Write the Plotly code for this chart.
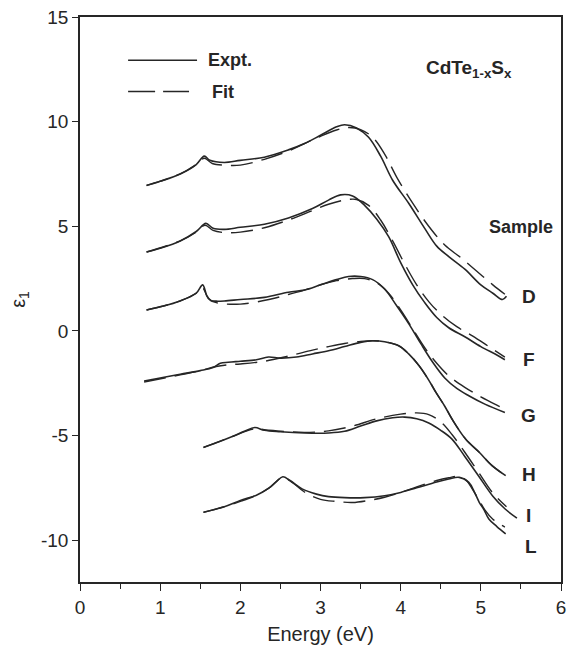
import plotly.graph_objects as go

# Real part of the dielectric function, eps1(E), for CdTe(1-x)S(x) films.
# Each sample: measured spectrum (Expt.) and model fit (Fit).

# --- sample D ---
d_expt_e = [0.83, 1.0, 1.25, 1.45, 1.55, 1.62, 1.8, 2.0, 2.3, 2.6, 2.8, 3.0, 3.2, 3.3, 3.45, 3.6,
            3.75, 3.9, 4.1, 4.3, 4.45, 4.6, 4.8, 5.0, 5.15, 5.27, 5.32]
d_expt_eps = [6.95, 7.15, 7.5, 7.95, 8.35, 8.15, 8.05, 8.15, 8.3, 8.65, 8.95, 9.35, 9.75, 9.85, 9.7, 9.25,
              8.35, 7.2, 6.1, 4.9, 4.05, 3.55, 2.95, 2.2, 1.8, 1.5, 1.65]
d_fit_e = [0.83, 1.25, 1.45, 1.55, 1.65, 1.8, 2.0, 2.3, 2.6, 2.8, 3.0, 3.2, 3.35, 3.5, 3.65, 3.8,
           3.95, 4.15, 4.35, 4.55, 4.75, 4.95, 5.15, 5.3]
d_fit_eps = [6.95, 7.5, 7.95, 8.25, 8.0, 7.92, 7.92, 8.2, 8.6, 8.95, 9.3, 9.6, 9.72, 9.62, 9.25, 8.45,
             7.35, 6.1, 5.0, 4.1, 3.5, 2.85, 2.2, 1.75]

# --- sample F ---
f_expt_e = [0.83, 1.0, 1.25, 1.45, 1.57, 1.66, 1.8, 2.0, 2.3, 2.6, 2.9, 3.1, 3.25, 3.4, 3.55, 3.7,
            3.85, 4.0, 4.15, 4.3, 4.45, 4.6, 4.8, 5.0, 5.2, 5.3]
f_expt_eps = [3.77, 3.95, 4.3, 4.75, 5.14, 4.9, 4.85, 4.95, 5.1, 5.4, 5.85, 6.25, 6.5, 6.45, 6.0, 5.35,
              4.5, 3.26, 2.2, 1.35, 0.64, 0.15, -0.28, -0.75, -1.15, -1.38]
f_fit_e = [0.83, 1.25, 1.45, 1.56, 1.66, 1.8, 2.0, 2.3, 2.6, 2.9, 3.1, 3.3, 3.45, 3.6, 3.75, 3.9,
           4.05, 4.2, 4.35, 4.5, 4.7, 4.9, 5.1, 5.3]
f_fit_eps = [3.77, 4.3, 4.72, 5.05, 4.8, 4.7, 4.72, 4.93, 5.3, 5.75, 6.05, 6.25, 6.28, 6.0, 5.3, 4.3,
             3.2, 2.2, 1.4, 0.8, 0.2, -0.25, -0.75, -1.25]

# --- sample G ---
g_expt_e = [0.83, 1.0, 1.25, 1.45, 1.53, 1.58, 1.63, 1.7, 1.8, 2.0, 2.3, 2.6, 2.8, 3.0, 3.2, 3.35,
            3.5, 3.65, 3.8, 3.95, 4.1, 4.25, 4.4, 4.55, 4.7, 4.85, 5.05, 5.3]
g_expt_eps = [1.0, 1.15, 1.43, 1.8, 2.2, 1.7, 1.45, 1.42, 1.43, 1.5, 1.6, 1.85, 1.95, 2.2, 2.45, 2.6,
              2.6, 2.45, 2.0, 1.2, 0.35, -0.6, -1.5, -2.25, -2.75, -3.1, -3.5, -3.9]
g_fit_e = [0.83, 1.25, 1.45, 1.53, 1.6, 1.7, 2.0, 2.37, 2.61, 2.8, 3.0, 3.2, 3.4, 3.55, 3.7, 3.85,
           4.0, 4.15, 4.3, 4.45, 4.6, 4.8, 5.0, 5.2, 5.28]
g_fit_eps = [1.0, 1.43, 1.8, 2.05, 1.55, 1.35, 1.28, 1.51, 1.75, 1.95, 2.2, 2.4, 2.5, 2.5, 2.3, 1.8,
             1.0, 0.1, -0.8, -1.55, -2.15, -2.7, -3.15, -3.55, -3.7]

# --- sample H ---
h_expt_e = [0.8, 1.0, 1.25, 1.5, 1.66, 1.75, 1.85, 2.0, 2.2, 2.35, 2.5, 2.7, 2.9, 3.1, 3.3, 3.5,
            3.65, 3.8, 3.98, 4.1, 4.23, 4.35, 4.44, 4.55, 4.64, 4.81, 4.98, 5.14, 5.31]
h_expt_eps = [-2.4, -2.25, -2.07, -1.9, -1.75, -1.55, -1.5, -1.45, -1.38, -1.25, -1.3, -1.25, -1.1,
              -0.95, -0.75, -0.55, -0.47, -0.52, -0.72, -1.1, -1.67, -2.35, -2.94, -3.6, -4.21,
              -5.17, -5.8, -6.44, -6.92]
h_fit_e = [0.8, 1.25, 1.5, 1.7, 1.85, 2.0, 2.3, 2.6, 2.9, 3.1, 3.3, 3.5, 3.65, 3.8, 3.98, 4.1,
           4.23, 4.35, 4.44, 4.55, 4.64, 4.81, 4.98, 5.14, 5.31]
h_fit_eps = [-2.45, -2.1, -1.9, -1.7, -1.62, -1.58, -1.45, -1.2, -0.92, -0.75, -0.6, -0.5, -0.47,
             -0.52, -0.72, -1.1, -1.67, -2.35, -2.94, -3.6, -4.21, -5.17, -5.8, -6.44, -6.92]

# --- sample I ---
i_expt_e = [1.54, 1.7, 1.9, 2.05, 2.18, 2.3, 2.5, 2.8, 3.1, 3.3, 3.5, 3.7, 3.9, 4.05, 4.2, 4.35,
            4.5, 4.64, 4.8, 4.97, 5.15, 5.3, 5.45]
i_expt_eps = [-5.57, -5.35, -5.05, -4.8, -4.62, -4.75, -4.82, -4.88, -4.88, -4.8, -4.55, -4.3, -4.15,
              -4.12, -4.2, -4.4, -4.75, -5.17, -6.0, -6.92, -7.9, -8.5, -8.95]
i_fit_e = [1.54, 1.9, 2.18, 2.35, 2.8, 3.1, 3.4, 3.7, 4.0, 4.2, 4.35, 4.5, 4.64, 4.8, 4.97, 5.15, 5.32]
i_fit_eps = [-5.57, -5.05, -4.68, -4.75, -4.85, -4.78, -4.55, -4.2, -3.98, -3.92, -4.0, -4.35,
             -4.95, -5.8, -6.75, -7.75, -8.4]

# --- sample L ---
l_expt_e = [1.54, 1.8, 2.0, 2.2, 2.36, 2.45, 2.53, 2.62, 2.77, 2.95, 3.1, 3.3, 3.55, 3.8, 4.0, 4.2,
            4.45, 4.6, 4.73, 4.85, 4.92, 4.98, 5.04, 5.1, 5.2, 5.31]
l_expt_eps = [-8.67, -8.4, -8.1, -7.85, -7.5, -7.2, -6.97, -7.15, -7.55, -7.8, -7.92, -7.97, -7.97,
              -7.88, -7.72, -7.5, -7.22, -7.08, -7.0, -7.24, -7.7, -8.19, -8.55, -8.99, -9.35, -9.7]
l_fit_e = [1.54, 1.8, 2.0, 2.2, 2.36, 2.53, 2.65, 2.8, 3.0, 3.2, 3.4, 3.6, 3.8, 4.0, 4.2, 4.45,
           4.6, 4.72, 4.82, 4.9, 4.98, 5.05, 5.15, 5.3]
l_fit_eps = [-8.67, -8.4, -8.15, -7.85, -7.5, -7.0, -7.25, -7.7, -8.05, -8.15, -8.2, -8.1, -7.95,
             -7.72, -7.45, -7.15, -7.02, -6.95, -7.15, -7.6, -8.1, -8.55, -9.0, -9.38]

# axis ticks
x_ticks = [0, 1, 2, 3, 4, 5, 6]
y_ticks = [-10, -5, 0, 5, 10, 15]
y_tick_text = ["-10", "-5", "0", "5", "10", "15"]

samples = ["D", "F", "G", "H", "I", "L"]
expt = {"D": (d_expt_e, d_expt_eps), "F": (f_expt_e, f_expt_eps), "G": (g_expt_e, g_expt_eps),
        "H": (h_expt_e, h_expt_eps), "I": (i_expt_e, i_expt_eps), "L": (l_expt_e, l_expt_eps)}
fit = {"D": (d_fit_e, d_fit_eps), "F": (f_fit_e, f_fit_eps), "G": (g_fit_e, g_fit_eps),
       "H": (h_fit_e, h_fit_eps), "I": (i_fit_e, i_fit_eps), "L": (l_fit_e, l_fit_eps)}
# sample-label positions (energy, eps1) next to the curve ends
label_pos = {"D": (5.6, 1.66), "F": (5.6, -1.35), "G": (5.6, -4.06),
             "H": (5.6, -6.84), "I": (5.6, -8.84), "L": (5.62, -10.32)}

INK = "#262626"
FONT = "Arial, Liberation Sans, sans-serif"
DASH = "22px,9px"

fig = go.Figure()
for s in samples:
    xe, ye = expt[s]
    fig.add_trace(go.Scatter(x=xe, y=ye, mode="lines", line=dict(color=INK, width=1.6),
                             line_shape="spline", showlegend=False, name=f"{s} Expt."))
    xf, yf = fit[s]
    fig.add_trace(go.Scatter(x=xf, y=yf, mode="lines", line=dict(color=INK, width=1.4, dash=DASH),
                             line_shape="spline", showlegend=False, name=f"{s} Fit"))

annotations = []
for s in samples:
    lx, ly = label_pos[s]
    annotations.append(dict(x=lx, y=ly, text=f"<b>{s}</b>", showarrow=False,
                            font=dict(size=19, color=INK, family=FONT)))
annotations += [
    dict(x=5.5, y=4.95, text="<b>Sample</b>", showarrow=False,
         font=dict(size=18, color=INK, family=FONT)),
    dict(x=4.85, y=12.5, text="<b>CdTe<sub>1-x</sub>S<sub>x</sub></b>", showarrow=False,
         font=dict(size=19, color=INK, family=FONT)),
    dict(x=1.57, y=12.93, text="<b>Expt.</b>", showarrow=False, xanchor="left",
         font=dict(size=18, color=INK, family=FONT)),
    dict(x=1.62, y=11.44, text="<b>Fit</b>", showarrow=False, xanchor="left",
         font=dict(size=18, color=INK, family=FONT)),
]

# legend key lines
shapes = [
    dict(type="line", x0=0.6, x1=1.46, y0=12.93, y1=12.93, line=dict(color=INK, width=1.6)),
    dict(type="line", x0=0.6, x1=1.36, y0=11.44, y1=11.44, line=dict(color=INK, width=1.4, dash="27px,8px")),
]

fig.update_layout(
    width=570, height=652,
    margin=dict(l=80, r=9, t=17, b=70),
    paper_bgcolor="white", plot_bgcolor="white",
    font=dict(family=FONT, color=INK),
    annotations=annotations, shapes=shapes,
    showlegend=False,
)
fig.update_xaxes(
    range=[0, 6], tickvals=x_ticks, ticks="outside", ticklen=7, tickwidth=1.3, tickcolor=INK,
    minor=dict(dtick=0.5, ticks="outside", ticklen=5, tickwidth=1.2, tickcolor=INK),
    showgrid=False, zeroline=False, showline=True, linecolor=INK, linewidth=1.5, mirror=True,
    tickfont=dict(size=19, color=INK, family=FONT), automargin=False,
    title=dict(text="Energy (eV)", font=dict(size=20, color=INK, family=FONT), standoff=10),
)
fig.update_yaxes(
    range=[-12, 15], tickvals=y_ticks, ticktext=y_tick_text, ticks="outside", ticklen=6,
    tickwidth=1.3, tickcolor=INK, showgrid=False, zeroline=False, showline=True, linecolor=INK,
    linewidth=1.5, mirror=True, tickfont=dict(size=19, color=INK, family=FONT), automargin=False,
    title=dict(text="ε<sub>1</sub>", font=dict(size=20, color=INK, family=FONT), standoff=10),
)

fig.write_html("out.html")
